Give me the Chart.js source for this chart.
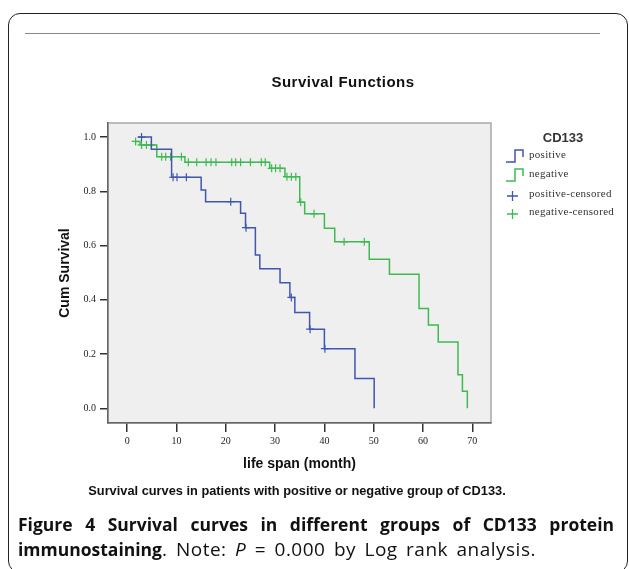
<!DOCTYPE html>
<html>
<head>
<meta charset="utf-8">
<script src="https://cdn.jsdelivr.net/npm/chart.js@4.4.1/dist/chart.umd.min.js"></script>
<style>
    body { margin: 0; background: #fff; }
    #page { position: relative; width: 629px; height: 569px; overflow: hidden; font-family: "Liberation Sans", Arial, sans-serif; }
    #card { position: absolute; left: 8px; top: 13px; width: 620px; height: 560px; border: 1.5px solid #222; border-radius: 12px; box-sizing: border-box; }
    #sep { position: absolute; left: 25px; top: 33px; width: 575px; height: 0; border-top: 1px solid #8a8a8a; }
    #grafico { position: absolute; left: 0; top: 0; }
    #titulo { position: absolute; left: 243px; top: 73px; width: 200px; text-align: center; font-weight: bold; font-size: 15px; letter-spacing: 0.5px; line-height: 18px; color: #111; }
    #subtitulo { position: absolute; left: 47px; top: 483px; width: 500px; text-align: center; font-weight: bold; font-size: 12.8px; line-height: 15px; color: #111; }
    #legenda { position: absolute; left: 500px; top: 128px; width: 129px; font-family: "Liberation Serif", serif; font-size: 11px; letter-spacing: 0.3px; color: #333; }
    #legenda .cab { position: absolute; left: 38px; top: 2px; width: 50px; text-align: center; font-family: "Liberation Sans", Arial, sans-serif; font-weight: bold; font-size: 13px; letter-spacing: 0; }
    #legenda .item { position: absolute; left: 29px; height: 14px; line-height: 14px; white-space: nowrap; }
    #legenda svg { position: absolute; left: 4px; }
    .legenda1 { position: absolute; left: 18px; top: 512px; width: 596px; font-family: "Open Sans", sans-serif; font-size: 17.5px; line-height: 24px; font-weight: bold; text-align: justify; text-align-last: justify; color: #111; }
    .legenda2 { position: absolute; left: 18px; top: 537px; width: 610px; font-family: "Open Sans", sans-serif; font-size: 17.5px; line-height: 24px; color: #111; white-space: nowrap; }
    .legenda2 span { font-size: 19px; letter-spacing: 0.5px; word-spacing: 3px; }
</style>
</head>
<body>
<div id="page">
    <div id="card"></div>
    <div id="sep"></div>
    <canvas id="grafico" width="629" height="569"></canvas>
    <div id="titulo">Survival Functions</div>
    <div id="legenda">
        <div class="cab">CD133</div>
        <svg width="24" height="18" style="top:19px"><path d="M2 15 H11 V3 H19 V10" fill="none" stroke="#4256b0" stroke-width="1.5"/></svg>
        <div class="item" style="top:19px">positive</div>
        <svg width="24" height="18" style="top:38px"><path d="M2 15 H11 V3 H19 V10" fill="none" stroke="#3fba52" stroke-width="1.5"/></svg>
        <div class="item" style="top:38px">negative</div>
        <svg width="24" height="18" style="top:59px"><path d="M3 9 H14 M8.5 4 V14" fill="none" stroke="#4256b0" stroke-width="1.3"/></svg>
        <div class="item" style="top:58px">positive-censored</div>
        <svg width="24" height="18" style="top:77px"><path d="M3 9 H14 M8.5 4 V14" fill="none" stroke="#3fba52" stroke-width="1.3"/></svg>
        <div class="item" style="top:76px">negative-censored</div>
    </div>
    <div id="subtitulo">Survival curves in patients with positive or negative group of CD133.</div>
    <div class="legenda1">Figure 4 Survival curves in different groups of CD133 protein</div>
    <div class="legenda2"><b>immunostaining</b><span>. Note: <i>P</i> = 0.000 by Log rank analysis.</span></div>
</div>
<script>
const positivoTempos = [2.2, 4.9, 9.0, 15.0, 15.9, 23.0, 24.0, 26.0, 26.9, 31.0, 33.0, 34.0, 37.0, 40.0, 46.2, 50.1];
const positivoSobrev = [1.0, 0.955, 0.852, 0.805, 0.762, 0.719, 0.666, 0.565, 0.515, 0.463, 0.409, 0.353, 0.292, 0.220, 0.110, 0.0];
const positivoCensura = [2.9, 9.3, 10.1, 12.0, 21.0, 24.1, 33.3, 37.1, 40.1];

const negativoTempos = [1.7, 2.6, 6.0, 11.7, 28.9, 32.0, 35.0, 36.0, 40.0, 42.1, 49.1, 53.2, 59.2, 61.1, 63.1, 67.1, 68.0, 69.0];
const negativoSobrev = [0.984, 0.971, 0.928, 0.907, 0.885, 0.854, 0.760, 0.717, 0.664, 0.614, 0.550, 0.494, 0.368, 0.307, 0.245, 0.124, 0.063, 0.0];
const negativoCensura = [1.7, 2.9, 3.9, 4.9, 7.0, 7.8, 8.8, 11.0, 12.4, 14.1, 16.0, 17.0, 18.0, 21.2, 22.0, 23.0, 25.0, 27.2, 28.0,
    29.3, 30.1, 31.0, 32.4, 33.3, 34.2, 35.2, 37.9, 44.0, 48.1];

const xTicks = [0, 10, 20, 30, 40, 50, 60, 70];
const yTicks = [0.0, 0.2, 0.4, 0.6, 0.8, 1.0];

const corPositivo = '#4256b0';
const corNegativo = '#3fba52';

function sobrevivenciaEm(tempos, sobrev, t) {
    let s = sobrev[0];
    for (let i = 0; i < tempos.length; i++) {
        if (tempos[i] <= t) {
            s = sobrev[i];
        }
    }
    return s;
}

function pontosCurva(tempos, sobrev) {
    return tempos.map((t, i) => ({ x: t, y: sobrev[i] }));
}

function pontosCensura(censura, tempos, sobrev) {
    return censura.map(t => ({ x: t, y: sobrevivenciaEm(tempos, sobrev, t) }));
}

const moldura = {
    id: 'moldura',
    beforeDraw(chart) {
        const { ctx, chartArea } = chart;
        ctx.save();
        ctx.fillStyle = '#efefef';
        ctx.fillRect(chartArea.left, chartArea.top, chartArea.right - chartArea.left, chartArea.bottom - chartArea.top);
        ctx.strokeStyle = '#a8a8a8';
        ctx.lineWidth = 1.5;
        ctx.strokeRect(chartArea.left, chartArea.top, chartArea.right - chartArea.left, chartArea.bottom - chartArea.top);
        ctx.restore();
    }
};

const ctx = document.getElementById('grafico').getContext('2d');
const chart = new Chart(ctx, {
    type: 'line',
    data: {
        datasets: [
            {
                label: 'positive',
                data: pontosCurva(positivoTempos, positivoSobrev),
                borderColor: corPositivo,
                borderWidth: 1.5,
                stepped: true,
                pointRadius: 0,
                fill: false
            },
            {
                label: 'negative',
                data: pontosCurva(negativoTempos, negativoSobrev),
                borderColor: corNegativo,
                borderWidth: 1.5,
                stepped: true,
                pointRadius: 0,
                fill: false
            },
            {
                label: 'positive-censored',
                data: pontosCensura(positivoCensura, positivoTempos, positivoSobrev),
                borderColor: corPositivo,
                showLine: false,
                pointStyle: 'cross',
                pointRadius: 4,
                pointBorderWidth: 1.2
            },
            {
                label: 'negative-censored',
                data: pontosCensura(negativoCensura, negativoTempos, negativoSobrev),
                borderColor: corNegativo,
                showLine: false,
                pointStyle: 'cross',
                pointRadius: 4,
                pointBorderWidth: 1.2
            }
        ]
    },
    options: {
        responsive: false,
        animation: false,
        devicePixelRatio: 1,
        layout: {
            padding: { left: 0, top: 123, right: 138, bottom: 90 }
        },
        plugins: {
            legend: { display: false },
            tooltip: { enabled: false }
        },
        scales: {
            x: {
                type: 'linear',
                min: -3.9,
                max: 73.8,
                afterBuildTicks: scale => { scale.ticks = xTicks.map(v => ({ value: v })); },
                afterFit: scale => { scale.height = 56; },
                grid: { display: true, drawOnChartArea: false, drawTicks: true, tickLength: 9, color: '#333', lineWidth: 1.5 },
                border: { display: true, color: '#666', width: 1.5 },
                ticks: {
                    padding: 3,
                    color: '#222',
                    font: { family: 'Liberation Serif', size: 10 },
                    callback: v => v
                },
                title: {
                    display: true,
                    text: 'life span (month)',
                    color: '#111',
                    font: { family: 'Liberation Sans', size: 14, weight: 'bold' },
                    padding: { top: 0, bottom: 6 }
                }
            },
            y: {
                min: -0.054,
                max: 1.052,
                afterBuildTicks: scale => { scale.ticks = yTicks.map(v => ({ value: v })); },
                afterFit: scale => { scale.width = 108; },
                grid: { display: true, drawOnChartArea: false, drawTicks: true, tickLength: 8, color: '#333', lineWidth: 1.5 },
                border: { display: true, color: '#666', width: 1.5 },
                ticks: {
                    padding: 4,
                    color: '#222',
                    font: { family: 'Liberation Serif', size: 10 },
                    callback: v => v.toFixed(1)
                },
                title: {
                    display: true,
                    text: 'Cum Survival',
                    color: '#111',
                    font: { family: 'Liberation Sans', size: 14, weight: 'bold' },
                    padding: { top: 57, bottom: 0 }
                }
            }
        }
    },
    plugins: [moldura]
});
</script>
</body>
</html>
